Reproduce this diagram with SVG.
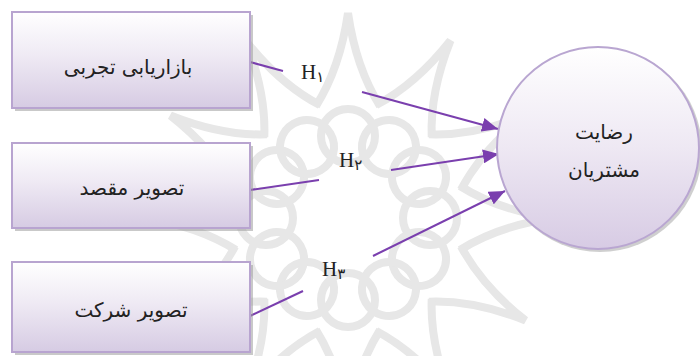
<svg xmlns="http://www.w3.org/2000/svg" xmlns:xlink="http://www.w3.org/1999/xlink" width="700" height="356" viewBox="0 0 700 356">
  <defs>
    <linearGradient id="boxFill" x1="0" y1="0" x2="0" y2="1">
      <stop offset="0" stop-color="#ffffff"/>
      <stop offset="0.45" stop-color="#efeaf4"/>
      <stop offset="1" stop-color="#d6cbe3"/>
    </linearGradient>
    <linearGradient id="circleFill" x1="0" y1="0" x2="0" y2="1">
      <stop offset="0" stop-color="#ffffff"/>
      <stop offset="0.5" stop-color="#eee8f3"/>
      <stop offset="1" stop-color="#d7cbe4"/>
    </linearGradient>
    <marker id="arrow" viewBox="0 0 16 14" refX="16" refY="7" markerWidth="16" markerHeight="14" markerUnits="userSpaceOnUse" orient="auto">
      <path d="M0,0 L16,7 L0,14 Z" fill="#7a3fae"/>
    </marker>
    <!-- one lobe of the background rosette -->
    <path id="lobe" d="M-32,-112 Q-8,-150 0,-205 Q8,-150 32,-112"/>
    <circle id="ringCircle" cx="0" cy="-82" r="27"/>
  </defs>
  <style>
    .wm { fill: none; stroke: #e7e7e7; stroke-width: 8; }
    .box { fill: url(#boxFill); stroke: #b8a4d0; stroke-width: 2; }
    .shadow { fill: #9d9d9d; opacity: 0.55; }
    .label { font-family: "DejaVu Sans", "Noto Sans", sans-serif; font-size: 20px; fill: #222; text-anchor: middle; }
    .hyp { font-family: "Liberation Serif", "DejaVu Sans", serif; font-size: 21px; fill: #222; }
    .sub { font-family: "DejaVu Sans", sans-serif; font-size: 15px; }
    .link { fill: none; stroke: #7a3fae; stroke-width: 2; }
  </style>

  <rect width="700" height="356" fill="#ffffff"/>

  <!-- background rosette -->
  <g id="rosette" transform="translate(348,218)">
    <g class="wm">
      <use xlink:href="#ringCircle"/>
      <use xlink:href="#ringCircle" transform="rotate(30)"/>
      <use xlink:href="#ringCircle" transform="rotate(60)"/>
      <use xlink:href="#ringCircle" transform="rotate(90)"/>
      <use xlink:href="#ringCircle" transform="rotate(120)"/>
      <use xlink:href="#ringCircle" transform="rotate(150)"/>
      <use xlink:href="#ringCircle" transform="rotate(180)"/>
      <use xlink:href="#ringCircle" transform="rotate(210)"/>
      <use xlink:href="#ringCircle" transform="rotate(240)"/>
      <use xlink:href="#ringCircle" transform="rotate(270)"/>
      <use xlink:href="#ringCircle" transform="rotate(300)"/>
      <use xlink:href="#ringCircle" transform="rotate(330)"/>
      <use xlink:href="#lobe"/>
      <use xlink:href="#lobe" transform="rotate(30)"/>
      <use xlink:href="#lobe" transform="rotate(60)"/>
      <use xlink:href="#lobe" transform="rotate(90)"/>
      <use xlink:href="#lobe" transform="rotate(120)"/>
      <use xlink:href="#lobe" transform="rotate(150)"/>
      <use xlink:href="#lobe" transform="rotate(180)"/>
      <use xlink:href="#lobe" transform="rotate(210)"/>
      <use xlink:href="#lobe" transform="rotate(240)"/>
      <use xlink:href="#lobe" transform="rotate(270)"/>
      <use xlink:href="#lobe" transform="rotate(300)"/>
      <use xlink:href="#lobe" transform="rotate(330)"/>
    </g>
  </g>

  <!-- connectors -->
  <g id="connectors">
    <line class="link" x1="250" y1="62" x2="283" y2="71"/>
    <line class="link" x1="362" y1="92" x2="498" y2="129" marker-end="url(#arrow)"/>
    <line class="link" x1="250" y1="190" x2="319" y2="180"/>
    <line class="link" x1="391" y1="170" x2="499" y2="154" marker-end="url(#arrow)"/>
    <line class="link" x1="250" y1="316" x2="303" y2="291"/>
    <line class="link" x1="373" y1="256" x2="505" y2="191" marker-end="url(#arrow)"/>
  </g>

  <!-- hypothesis labels -->
  <g id="labels">
    <text class="hyp" x="301" y="79">H<tspan class="sub" dy="3">۱</tspan></text>
    <text class="hyp" x="339" y="167">H<tspan class="sub" dy="3">۲</tspan></text>
    <text class="hyp" x="322" y="276">H<tspan class="sub" dy="3">۳</tspan></text>
  </g>

  <!-- source constructs -->
  <g id="experiential-marketing">
    <rect class="shadow" x="15" y="15" width="238" height="96"/>
    <rect class="box" x="12" y="12" width="238" height="96"/>
    <text class="label" x="128" y="74" direction="rtl">بازاریابی تجربی</text>
  </g>
  <g id="destination-image">
    <rect class="shadow" x="15" y="146" width="238" height="85"/>
    <rect class="box" x="12" y="143" width="238" height="85"/>
    <text class="label" x="132" y="195" direction="rtl">تصویر مقصد</text>
  </g>
  <g id="company-image">
    <rect class="shadow" x="15" y="265" width="238" height="90"/>
    <rect class="box" x="12" y="262" width="238" height="90"/>
    <text class="label" x="131" y="317" direction="rtl">تصویر شرکت</text>
  </g>

  <!-- target construct -->
  <g id="customer-satisfaction">
    <circle cx="600" cy="150" r="102" fill="#a0a0a0" opacity="0.5"/>
    <circle cx="598" cy="148" r="101" fill="url(#circleFill)" stroke="#b9a6d1" stroke-width="2"/>
    <text class="label" x="604" y="139" direction="rtl">رضایت</text>
    <text class="label" x="604" y="177" direction="rtl">مشتریان</text>
  </g>
</svg>
